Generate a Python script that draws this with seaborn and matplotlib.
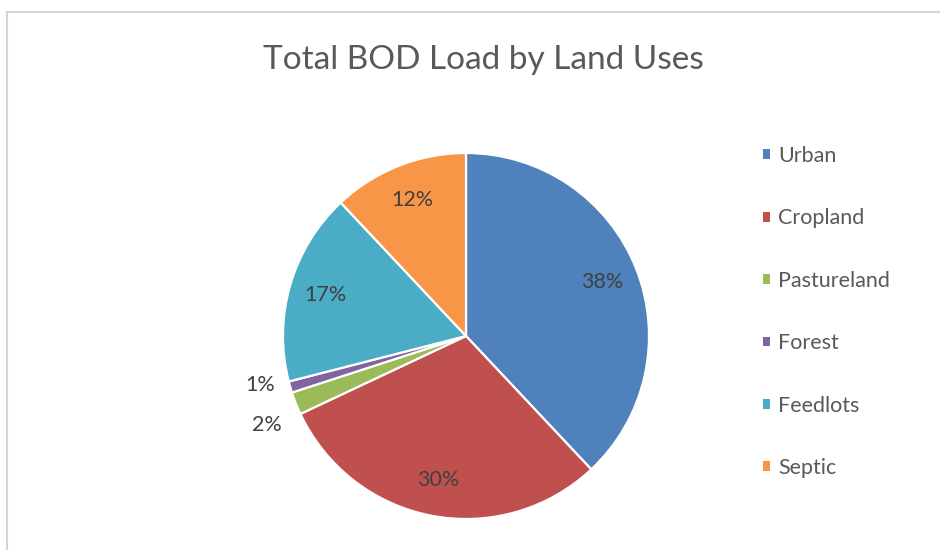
import numpy as np
import matplotlib
matplotlib.use("Agg")
import matplotlib.pyplot as plt
from matplotlib.patches import Patch
from matplotlib.lines import Line2D
import seaborn as sns

categories = ["Urban", "Cropland", "Pastureland", "Forest", "Feedlots", "Septic"]
values = [38, 30, 2, 1, 17, 12]
colors = ["#4F81BD", "#C0504D", "#9BBB59", "#8064A2", "#4BACC6", "#F79646"]
title = "Total BOD Load by Land Uses"

sns.set_theme(style="white")
plt.rcParams["font.family"] = ["Lato", "DejaVu Sans"]

W, H = 940, 550
fig = plt.figure(figsize=(W / 100, H / 100), dpi=100)
fig.patch.set_facecolor("white")

# pie axes: center (466,336), radius 183 px
cx, cy, R = 466, 336, 183
ax = fig.add_axes([(cx - R) / W, (H - cy - R) / H, 2 * R / W, 2 * R / H])
wedges, _ = ax.pie(values, colors=sns.color_palette(colors), startangle=90,
                   counterclock=False,
                   wedgeprops=dict(edgecolor="white", linewidth=1.6))
ax.set_xlim(-1, 1)
ax.set_ylim(-1, 1)
ax.set_aspect("equal")
ax.axis("off")

# percentage labels
total = sum(values)
positions = []
for w, v in zip(wedges, values):
    mid = np.deg2rad((w.theta1 + w.theta2) / 2)
    frac = v / total
    r = 1.17 if frac < 0.05 else 0.8
    positions.append([r * np.cos(mid), r * np.sin(mid), frac < 0.05])

# separate overlapping outside labels
outs = [p for p in positions if p[2]]
outs.sort(key=lambda p: p[1])
for a, b in zip(outs, outs[1:]):
    gap = b[1] - a[1]
    need = 0.22
    if gap < need:
        d = (need - gap) / 2
        a[1] -= d
        b[1] += d

for (x, y, _), v in zip(positions, values):
    ax.text(x, y, f"{v}%", ha="center", va="center", fontsize=15.5,
            color="#404040", clip_on=False)

# title
fig.text(483 / W, 1 - 60 / H, title, ha="center", va="center",
         fontsize=24, color="#595959")

# legend
handles = [Patch(facecolor=c, edgecolor="none") for c in colors]
fig.legend(handles, categories, loc="center left",
           bbox_to_anchor=(763 / W, 1 - 312 / H), frameon=False,
           fontsize=15.5, labelcolor="#595959",
           handlelength=0.33, handleheight=0.33, handletextpad=0.38,
           labelspacing=1.97, borderpad=0, borderaxespad=0)

# chart border (top and left edges visible)
fig.add_artist(Line2D([7 / W, 1], [1 - 12 / H, 1 - 12 / H], color="#d4d4d4",
                      linewidth=1.5, transform=fig.transFigure))
fig.add_artist(Line2D([7 / W, 7 / W], [0, 1 - 12 / H], color="#d4d4d4",
                      linewidth=1.5, transform=fig.transFigure))

fig.savefig("out.png", dpi=100, facecolor="white")
